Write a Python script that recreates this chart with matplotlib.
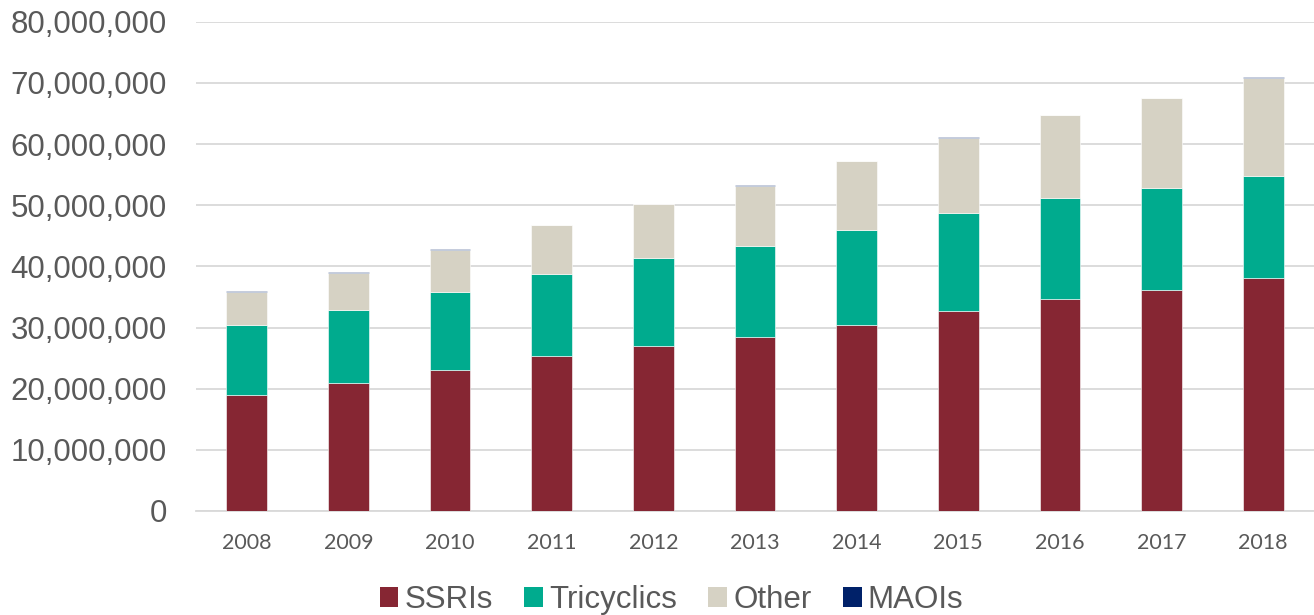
import matplotlib.pyplot as plt
from matplotlib.ticker import FuncFormatter
from matplotlib.patches import Patch

# Prescription items per year by antidepressant class
years = ["2008", "2009", "2010", "2011", "2012", "2013", "2014", "2015", "2016", "2017", "2018"]
ssris = [18950000, 20900000, 23100000, 25400000, 26970000, 28450000, 30400000, 32700000, 34660000, 36200000, 38100000]
tricyclics = [11410000, 11900000, 12700000, 13400000, 14360000, 14840000, 15500000, 16000000, 16440000, 16580000, 16700000]
other = [5520000, 6100000, 6950000, 7900000, 8800000, 9900000, 11250000, 12270000, 13580000, 14680000, 15990000]
maois = [150000, 150000, 140000, 140000, 130000, 130000, 120000, 120000, 120000, 110000, 110000]

series = [("SSRIs", ssris, "#862633"),
          ("Tricyclics", tricyclics, "#00AB8E"),
          ("Other", other, "#D6D2C4"),
          ("MAOIs", maois, "#002169")]

fig = plt.figure(figsize=(13.14, 6.15), dpi=100)
ax = fig.add_axes([196 / 1314, 1 - 511 / 615, 1 - 196 / 1314, (511 - 21.7) / 615])

x = list(range(len(years)))
bottom = [0] * len(years)
for name, vals, col in series:
    ax.bar(x, vals, width=0.4, bottom=bottom, color=col, edgecolor="white", linewidth=0.4, zorder=3)
    bottom = [b + v for b, v in zip(bottom, vals)]

ax.set_xlim(-0.5, 10.5)
ax.set_ylim(0, 80000000)
ax.set_yticks(range(0, 80000001, 10000000))
ax.yaxis.set_major_formatter(FuncFormatter(lambda v, p: f"{int(v):,}"))
ax.set_xticks(x)
ax.set_xticklabels(years, family="Lato", fontsize=15.5, color="#595959")
for lab in ax.get_yticklabels():
    lab.set_family("Liberation Sans")
    lab.set_fontsize(22.5)
    lab.set_color("#595959")
ax.tick_params(axis="y", length=0, pad=21)
ax.tick_params(axis="x", length=0, pad=16)

ax.grid(axis="y", color="#D9D9D9", linewidth=1.3, zorder=0)
for s in ["top", "right", "left"]:
    ax.spines[s].set_visible(False)
ax.spines["bottom"].set_color("#D9D9D9")
ax.spines["bottom"].set_linewidth(1.3)

handles = [Patch(facecolor=c, edgecolor="none", label=n) for n, v, c in series]
fig.legend(handles=handles, loc="center", bbox_to_anchor=(0.511, 0.024), ncol=4, frameon=False,
           prop={"family": "Liberation Sans", "size": 22.5}, labelcolor="#595959",
           handlelength=0.6, handleheight=0.6, handletextpad=0.2, columnspacing=1.0)

fig.savefig("out.png", dpi=100)
